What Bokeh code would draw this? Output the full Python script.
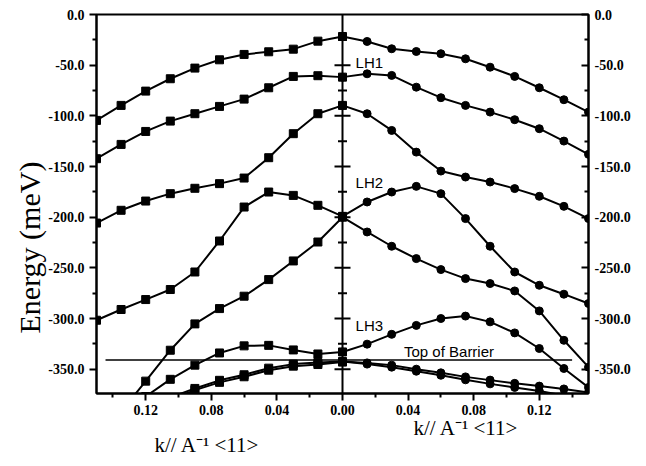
from bokeh.plotting import figure
from bokeh.models import FixedTicker, LinearAxis, Span, Label, Range1d, Title
from bokeh.embed import file_html
from bokeh.resources import INLINE

# ---------------- data ----------------
k_left = [-0.150, -0.135, -0.120, -0.105, -0.090, -0.075, -0.060, -0.045, -0.030, -0.015, 0.000]
k_right = [0.000, 0.015, 0.030, 0.045, 0.060, 0.075, 0.090, 0.105, 0.120, 0.135, 0.150]

L1 = [-104.5, -89.7, -75.6, -63.4, -52.9, -44.7, -39.4, -36.8, -34.2, -26.3, -21.7]
L2 = [-142.3, -128.2, -115.4, -105.2, -97.9, -90.7, -83.5, -72.3, -61.1, -60.4, -61.8]
L3 = [-205.8, -193.2, -184.1, -176.8, -171.5, -166.9, -161.4, -141.3, -117.6, -97.9, -89.7]
L4 = [-301.7, -291.1, -281.3, -271.4, -254.1, -223.5, -190.0, -175.2, -178.5, -188.3, -199.2]
L5_k = [-0.135, -0.120, -0.105, -0.090, -0.075, -0.060, -0.045, -0.030, -0.015, 0.000]
L5 = [-392.0, -361.8, -331.3, -305.3, -290.2, -278.0, -261.6, -243.2, -224.5, -200.0]
L6_k = [-0.120, -0.105, -0.090, -0.075, -0.060, -0.045, -0.030, -0.015, 0.000]
L6 = [-377.0, -360.0, -346.0, -334.0, -327.0, -326.5, -331.0, -335.0, -333.0]
L7_k = [-0.105, -0.090, -0.075, -0.060, -0.045, -0.030, -0.015, 0.000]
L7 = [-380.0, -370.7, -363.0, -357.5, -351.0, -347.0, -345.4, -343.0]
L8 = [-378.0, -369.0, -361.0, -355.5, -349.0, -345.0, -343.5, -342.5]

R1 = [-21.7, -26.6, -33.8, -36.5, -38.7, -43.7, -52.0, -61.1, -72.3, -84.1, -96.3]
R2 = [-61.8, -58.5, -60.1, -71.7, -82.1, -89.7, -96.3, -103.8, -112.7, -124.9, -138.0]
R3 = [-89.7, -97.9, -114.4, -135.8, -154.5, -160.4, -165.3, -171.8, -179.4, -189.3, -201.4]
R4 = [-199.2, -185.0, -175.2, -169.6, -176.8, -201.4, -228.7, -254.1, -267.2, -276.0, -285.2]
R5 = [-200.0, -214.6, -228.7, -240.9, -251.7, -260.6, -265.5, -272.8, -292.5, -321.5, -348.0]
R6 = [-333.0, -325.3, -315.6, -306.8, -300.0, -297.6, -303.3, -314.2, -329.6, -349.3, -368.0]
R7 = [-342.5, -343.8, -346.0, -350.0, -353.6, -357.6, -360.8, -364.0, -366.7, -369.5, -373.0]
R8 = [-342.5, -345.0, -348.0, -352.0, -356.0, -360.5, -364.5, -368.0, -371.5, -376.0, -381.0]

barrier_energy = -341.0
barrier_k = [-0.1445, 0.140]

y_tick_vals = [0, -50, -100, -150, -200, -250, -300, -350]
y_tick_labels = ["0.0", "-50.0", "-100.0", "-150.0", "-200.0", "-250.0", "-300.0", "-350.0"]
y_minor_vals = [-25, -75, -125, -175, -225, -275, -325]
x_tick_vals = [-0.12, -0.08, -0.04, 0.0, 0.04, 0.08, 0.12]
x_tick_labels = ["0.12", "0.08", "0.04", "0.00", "0.04", "0.08", "0.12"]
x_minor_vals = [-0.14, -0.10, -0.06, -0.02, 0.02, 0.06, 0.10, 0.14]

band_labels = ["LH1", "LH2", "LH3"]
band_label_pos = [(0.008, -47.0), (0.008, -165.5), (0.008, -306.5)]
x_title = "k// A\u207b\u00b9 <11>"
y_title = "Energy (meV)"

# ---------------- figure ----------------
p = figure(width=646, height=466, x_range=Range1d(-0.15, 0.15), y_range=Range1d(-374, 0),
           output_backend="svg", toolbar_location=None,
           min_border_left=96, min_border_right=58, min_border_top=14, min_border_bottom=73)
p.grid.visible = False
p.outline_line_color = "black"
p.outline_line_width = 2
p.background_fill_color = "white"
p.border_fill_color = "white"

SERIF = "Liberation Serif"
SANS = "Liberation Sans"

ytick = FixedTicker(ticks=y_tick_vals, minor_ticks=y_minor_vals)
xtick = FixedTicker(ticks=x_tick_vals, minor_ticks=x_minor_vals)

yax = p.yaxis[0]
yax.ticker = ytick
yax.major_label_overrides = {v: s for v, s in zip(y_tick_vals, y_tick_labels)}

xax = p.xaxis[0]
xax.ticker = xtick
xax.major_label_overrides = {v: s for v, s in zip(x_tick_vals, x_tick_labels)}

rax = LinearAxis(ticker=ytick)
rax.major_label_overrides = {v: s for v, s in zip(y_tick_vals, y_tick_labels)}
p.add_layout(rax, "right")

for ax in (yax, xax, rax):
    ax.axis_line_width = 2
    ax.axis_line_color = "black"
    ax.major_tick_line_width = 2
    ax.minor_tick_line_width = 2
    ax.major_tick_line_color = "black"
    ax.minor_tick_line_color = "black"
    ax.major_label_text_font = SERIF
    ax.major_label_text_font_size = "14px"
    ax.major_label_text_font_style = "bold"
    ax.major_label_text_color = "black"
    ax.major_label_standoff = 5

for ax in (yax, xax):
    ax.major_tick_out = 7
    ax.major_tick_in = 0
    ax.minor_tick_out = 4
    ax.minor_tick_in = 0
xax.major_label_standoff = 4
rax.major_tick_in = 7
rax.major_tick_out = 0
rax.minor_tick_in = 4
rax.minor_tick_out = 0
rax.major_label_standoff = 6

p.add_layout(Span(location=0, dimension="height", line_color="black", line_width=2))
p.scatter([0] * (len(y_tick_vals) - 1), y_tick_vals[1:], marker="dash", size=16,
          line_color="black", line_width=2)
p.scatter([0] * len(y_minor_vals), y_minor_vals, marker="dash", size=9,
          line_color="black", line_width=2)

p.segment(x0=[barrier_k[0]], x1=[barrier_k[1]], y0=[barrier_energy], y1=[barrier_energy],
          line_color="black", line_width=1.5)

left_sets = [(k_left, L1), (k_left, L2), (k_left, L3), (k_left, L4),
             (L5_k, L5), (L6_k, L6), (L7_k, L7), (L7_k, L8)]
right_sets = [R1, R2, R3, R4, R5, R6, R7, R8]

for kk, ee in left_sets:
    p.line(kk, ee, line_color="black", line_width=2)
    p.scatter(kk, ee, marker="square", size=8, fill_color="black", line_color="black")
for ee in right_sets:
    p.line(k_right, ee, line_color="black", line_width=2)
    p.scatter(k_right, ee, marker="circle", size=8, fill_color="black", line_color="black")

for txt, (kx, ey) in zip(band_labels, band_label_pos):
    p.add_layout(Label(x=kx, y=ey, text=txt, text_font=SANS, text_font_size="15px",
                       text_baseline="middle", text_align="left", text_color="black"))
p.add_layout(Label(x=0.0375, y=-333.0, text="Top of Barrier", text_font=SANS,
                   text_font_size="15px", text_baseline="middle", text_align="left",
                   text_color="black"))

# y-axis title
p.add_layout(Title(text=y_title, align="left", offset=60, text_font=SERIF,
                   text_font_size="30px", text_font_style="normal", text_color="black",
                   standoff=0), "left")

# x-axis titles: right one nearer the axis, left one below it
p.add_layout(Title(text=x_title, align="left", offset=317, text_font=SERIF,
                   text_font_size="21px", text_font_style="normal", text_color="black",
                   standoff=-7), "below")
p.add_layout(Title(text=x_title, align="left", offset=58, text_font=SERIF,
                   text_font_size="21px", text_font_style="normal", text_color="black",
                   standoff=-12), "below")

open("out.html", "w").write(file_html(p, INLINE))
